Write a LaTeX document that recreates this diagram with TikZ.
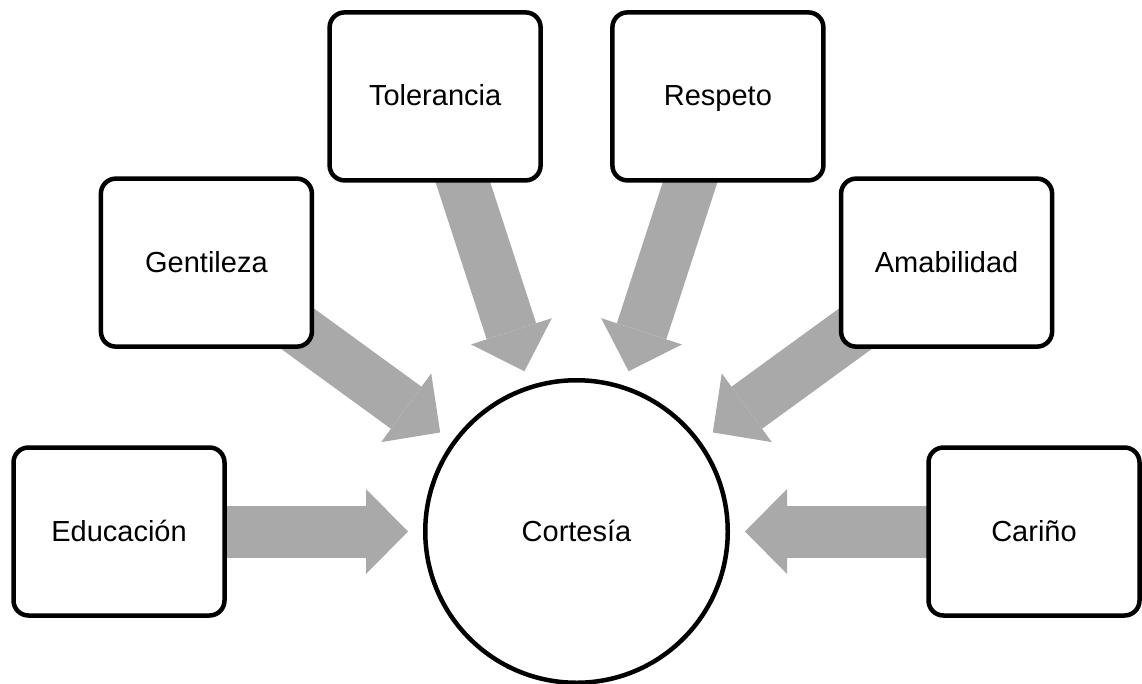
\documentclass[tikz,border=0pt]{standalone}
\usepackage{fontspec}
\setmainfont{Liberation Sans}
\usetikzlibrary{arrows.meta,backgrounds}
\definecolor{arrowgray}{RGB}{169,169,169}
\tikzset{
  labelfont/.style={font=\fontsize{29}{35}\selectfont, text height=19pt, text depth=0pt},
  itembox/.style={draw=black, line width=4.5pt, fill=white, rounded corners=15pt,
    minimum width=211pt, minimum height=168pt, inner sep=0pt, labelfont},
  hub/.style={circle, draw=black, line width=4.5pt, fill=white,
    minimum size=302.5pt, inner sep=0pt, labelfont},
  bigarrow/.style={draw=arrowgray, line width=52pt,
    -{Triangle[length=42pt,width=85pt,line width=0pt]},
    shorten <=-40pt, shorten >=15pt}
}
\begin{document}
\begin{tikzpicture}[x=1pt,y=-1pt]
\useasboundingbox (0,0) rectangle (1142,683);
\node[hub] (cort) at (576.5,531.5) {Cortesía};
\node[itembox] (edu) at (119,531.5) {Educación};
\node[itembox] (gen) at (206.4,262.6) {Gentileza};
\node[itembox] (tol) at (435.1,96.4) {Tolerancia};
\node[itembox] (res) at (717.9,96.4) {Respeto};
\node[itembox] (ama) at (946.6,262.6) {Amabilidad};
\node[itembox] (car) at (1034,531.5) {Cariño};
\begin{scope}[on background layer]
  \draw[bigarrow] (edu) -- (cort);
  \draw[bigarrow] (gen) -- (cort);
  \draw[bigarrow] (tol) -- (cort);
  \draw[bigarrow] (res) -- (cort);
  \draw[bigarrow] (ama) -- (cort);
  \draw[bigarrow] (car) -- (cort);
\end{scope}
\end{tikzpicture}
\end{document}
